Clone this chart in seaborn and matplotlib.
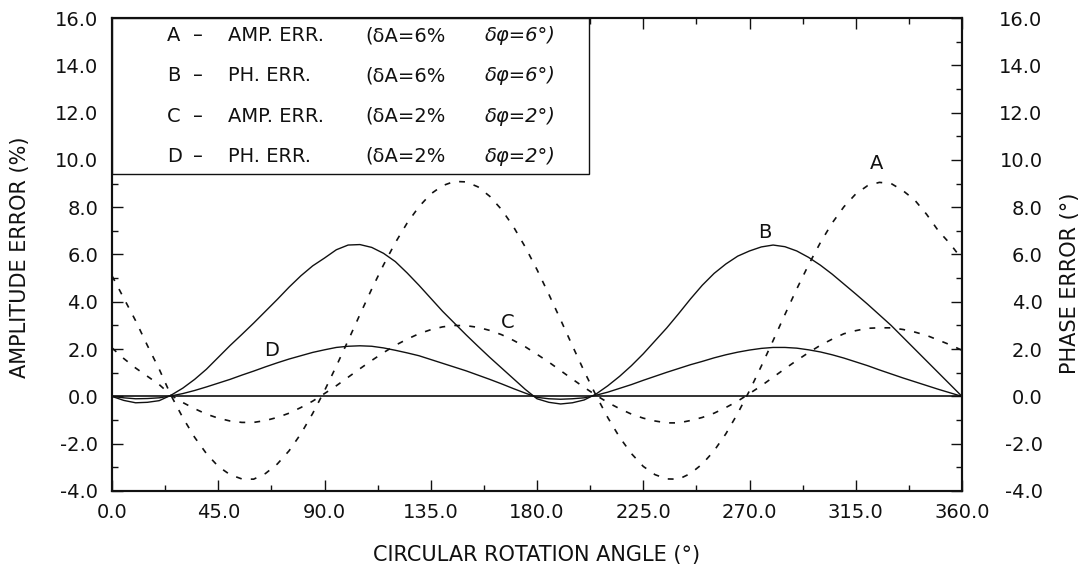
import matplotlib
matplotlib.use("Agg")
import matplotlib.pyplot as plt
import seaborn as sns
import pandas as pd
from matplotlib.ticker import MultipleLocator, FormatStrFormatter
from matplotlib.patches import Rectangle

# ---------------- data (every 5 degrees) ----------------
angle = list(range(0, 361, 5))

amp_err_A = [5.1, 4.15, 3.2, 2.15, 1.15, 0.04, -0.9, -1.73, -2.42, -2.96, -3.31, -3.49,
             -3.5, -3.26, -2.86, -2.30, -1.58, -0.72, 0.24, 1.28, 2.36, 3.46, 4.54, 5.56,
             6.5, 7.33, 8.02, 8.56, 8.91, 9.09, 9.07, 8.86, 8.46, 7.90, 7.18, 6.32,
             5.36, 4.32, 3.24, 2.14, 1.06, 0.04, -0.9, -1.73, -2.42, -2.96, -3.31, -3.49,
             -3.5, -3.26, -2.86, -2.30, -1.58, -0.72, 0.24, 1.28, 2.36, 3.46, 4.54, 5.56,
             6.5, 7.33, 8.02, 8.56, 8.91, 9.05, 9.0, 8.7, 8.3, 7.7, 7.0, 6.45,
             5.8]

ph_err_B = [0.0, -0.17, -0.27, -0.25, -0.18, 0.05, 0.35, 0.72, 1.15, 1.65, 2.15, 2.62,
            3.1, 3.6, 4.1, 4.62, 5.1, 5.52, 5.85, 6.2, 6.4, 6.42, 6.3, 6.05,
            5.7, 5.22, 4.7, 4.15, 3.6, 3.1, 2.6, 2.12, 1.65, 1.2, 0.75, 0.3,
            -0.1, -0.25, -0.32, -0.27, -0.15, 0.1, 0.45, 0.85, 1.3, 1.8, 2.35, 2.9,
            3.5, 4.12, 4.7, 5.2, 5.6, 5.93, 6.15, 6.32, 6.4, 6.33, 6.15, 5.88,
            5.55, 5.17, 4.75, 4.33, 3.9, 3.45, 3.0, 2.5, 2.0, 1.5, 1.0, 0.5,
            0.0]

amp_err_C = [2.05, 1.6, 1.2, 0.85, 0.5, 0.05, -0.26, -0.52, -0.75, -0.92, -1.04, -1.10,
             -1.1, -1.02, -0.89, -0.71, -0.47, -0.20, 0.12, 0.45, 0.81, 1.17, 1.52, 1.85,
             2.16, 2.42, 2.65, 2.82, 2.94, 3.00, 2.99, 2.92, 2.79, 2.61, 2.37, 2.10,
             1.78, 1.45, 1.09, 0.73, 0.38, 0.05, -0.26, -0.52, -0.75, -0.92, -1.04, -1.12,
             -1.12, -1.02, -0.89, -0.71, -0.47, -0.20, 0.12, 0.45, 0.81, 1.17, 1.52, 1.85,
             2.16, 2.42, 2.65, 2.78, 2.88, 2.9, 2.9, 2.83, 2.72, 2.58, 2.38, 2.18,
             1.95]

ph_err_D = [0.0, -0.06, -0.1, -0.09, -0.06, 0.02, 0.12, 0.25, 0.4, 0.56, 0.72, 0.9,
            1.07, 1.25, 1.42, 1.58, 1.72, 1.86, 1.97, 2.07, 2.12, 2.14, 2.12, 2.05,
            1.95, 1.84, 1.72, 1.56, 1.4, 1.24, 1.08, 0.9, 0.72, 0.53, 0.33, 0.14,
            -0.04, -0.1, -0.12, -0.1, -0.06, 0.05, 0.18, 0.34, 0.5, 0.68, 0.85, 1.02,
            1.18, 1.34, 1.48, 1.63, 1.76, 1.87, 1.96, 2.03, 2.07, 2.07, 2.04, 1.97,
            1.88, 1.76, 1.62, 1.46, 1.3, 1.12, 0.95, 0.78, 0.62, 0.46, 0.3, 0.15,
            0.0]

legend_keys = ["A", "B", "C", "D"]
legend_kinds = ["AMP. ERR.", "PH. ERR.", "AMP. ERR.", "PH. ERR."]
legend_dA = ["(δA=6%", "(δA=6%", "(δA=2%", "(δA=2%"]
legend_dphi = ["δφ=6°)", "δφ=6°)", "δφ=2°)", "δφ=2°)"]

x_ticks = [0, 45, 90, 135, 180, 225, 270, 315, 360]
y_ticks = [-4, -2, 0, 2, 4, 6, 8, 10, 12, 14, 16]

# ---------------- styling ----------------
sns.set_theme(style="white")
plt.rcParams["font.family"] = ["DejaVu Sans"]
INK = "#111111"
plt.rcParams["text.color"] = INK
plt.rcParams["xtick.color"] = INK
plt.rcParams["ytick.color"] = INK

W, H = 1084, 578
fig = plt.figure(figsize=(W / 100, H / 100), dpi=100)
ax = fig.add_axes([112 / W, 87 / H, 850 / W, 473 / H])

df = pd.DataFrame({"angle": angle, "A": amp_err_A, "B": ph_err_B,
                   "C": amp_err_C, "D": ph_err_D})

ax.axhline(0, color=INK, lw=1.2, zorder=2)
dash = (0, (3.5, 5.5))
sns.lineplot(data=df, x="angle", y="A", ax=ax, color=INK, lw=1.2, linestyle=dash)
sns.lineplot(data=df, x="angle", y="C", ax=ax, color=INK, lw=1.2, linestyle=dash)
sns.lineplot(data=df, x="angle", y="B", ax=ax, color=INK, lw=1.0)
sns.lineplot(data=df, x="angle", y="D", ax=ax, color=INK, lw=1.0)

ax.set_xlim(0, 360)
ax.set_ylim(-4, 16)
ax.set_xticks(x_ticks)
ax.set_yticks(y_ticks)
ax.xaxis.set_minor_locator(MultipleLocator(22.5))
ax.yaxis.set_minor_locator(MultipleLocator(1))
ax.xaxis.set_major_formatter(FormatStrFormatter("%.1f"))
ax.yaxis.set_major_formatter(FormatStrFormatter("%.1f"))
ax.tick_params(which="both", direction="in", top=True, right=False, bottom=True,
               left=True, color=INK, labelsize=14)
ax.tick_params(which="major", length=8, width=1.0)
ax.tick_params(which="minor", length=4, width=1.0)
ax.tick_params(axis="x", pad=9)
ax.tick_params(axis="y", pad=10)
ax.set_xlabel("")
ax.set_ylabel("")
ax.grid(False)
for s in ax.spines.values():
    s.set_visible(True)
    s.set_color(INK)
    s.set_linewidth(1.5)

ax2 = ax.twinx()
ax2.set_ylim(-4, 16)
ax2.set_yticks(y_ticks)
ax2.set_yticklabels([f"{v:.1f}" for v in y_ticks], ha="right")
ax2.yaxis.set_minor_locator(MultipleLocator(1))
ax2.tick_params(which="both", direction="in", labelsize=14, color=INK)
ax2.tick_params(which="major", length=8, width=1.0, pad=58)
ax2.tick_params(which="minor", length=4, width=1.0)
ax2.grid(False)
ax2.set_ylabel("")
for s in ax2.spines.values():
    s.set_visible(True)
    s.set_color(INK)
    s.set_linewidth(1.5)

# legend box
ax.add_patch(Rectangle((0, 9.4), 202, 6.6, facecolor="white", edgecolor=INK,
                       lw=1.0, zorder=3))
row_y = [15.26, 13.56, 11.85, 10.15]
for y, k, kind, da, dp in zip(row_y, legend_keys, legend_kinds, legend_dA, legend_dphi):
    ax.text(23.3, y, k, fontsize=14, va="center", ha="left", zorder=4)
    ax.text(34.3, y, "–", fontsize=14, va="center", ha="left", zorder=4)
    ax.text(49.1, y, kind, fontsize=14, va="center", ha="left", zorder=4)
    ax.text(107.2, y, da, fontsize=14, va="center", ha="left", zorder=4)
    ax.text(158.0, y, dp, fontsize=14, va="center", ha="left", style="italic", zorder=4)

# curve labels
ax.text(323.8, 9.43, "A", fontsize=14, ha="center", va="bottom")
ax.text(276.5, 6.95, "B", fontsize=14, ha="center", va="center")
ax.text(167.6, 3.14, "C", fontsize=14, ha="center", va="center")
ax.text(67.6, 1.95, "D", fontsize=14, ha="center", va="center")

# axis titles
fig.text(20 / W, 1 - 257 / H, "AMPLITUDE ERROR (%)", rotation=90, ha="center",
         va="center", fontsize=15)
fig.text(1070 / W, 1 - 283 / H, "PHASE ERROR (°)", rotation=90, ha="center",
         va="center", fontsize=15)
fig.text(537 / W, 1 - 555 / H, "CIRCULAR ROTATION ANGLE (°)", ha="center",
         va="center", fontsize=15)

fig.savefig("out.png", dpi=100)
